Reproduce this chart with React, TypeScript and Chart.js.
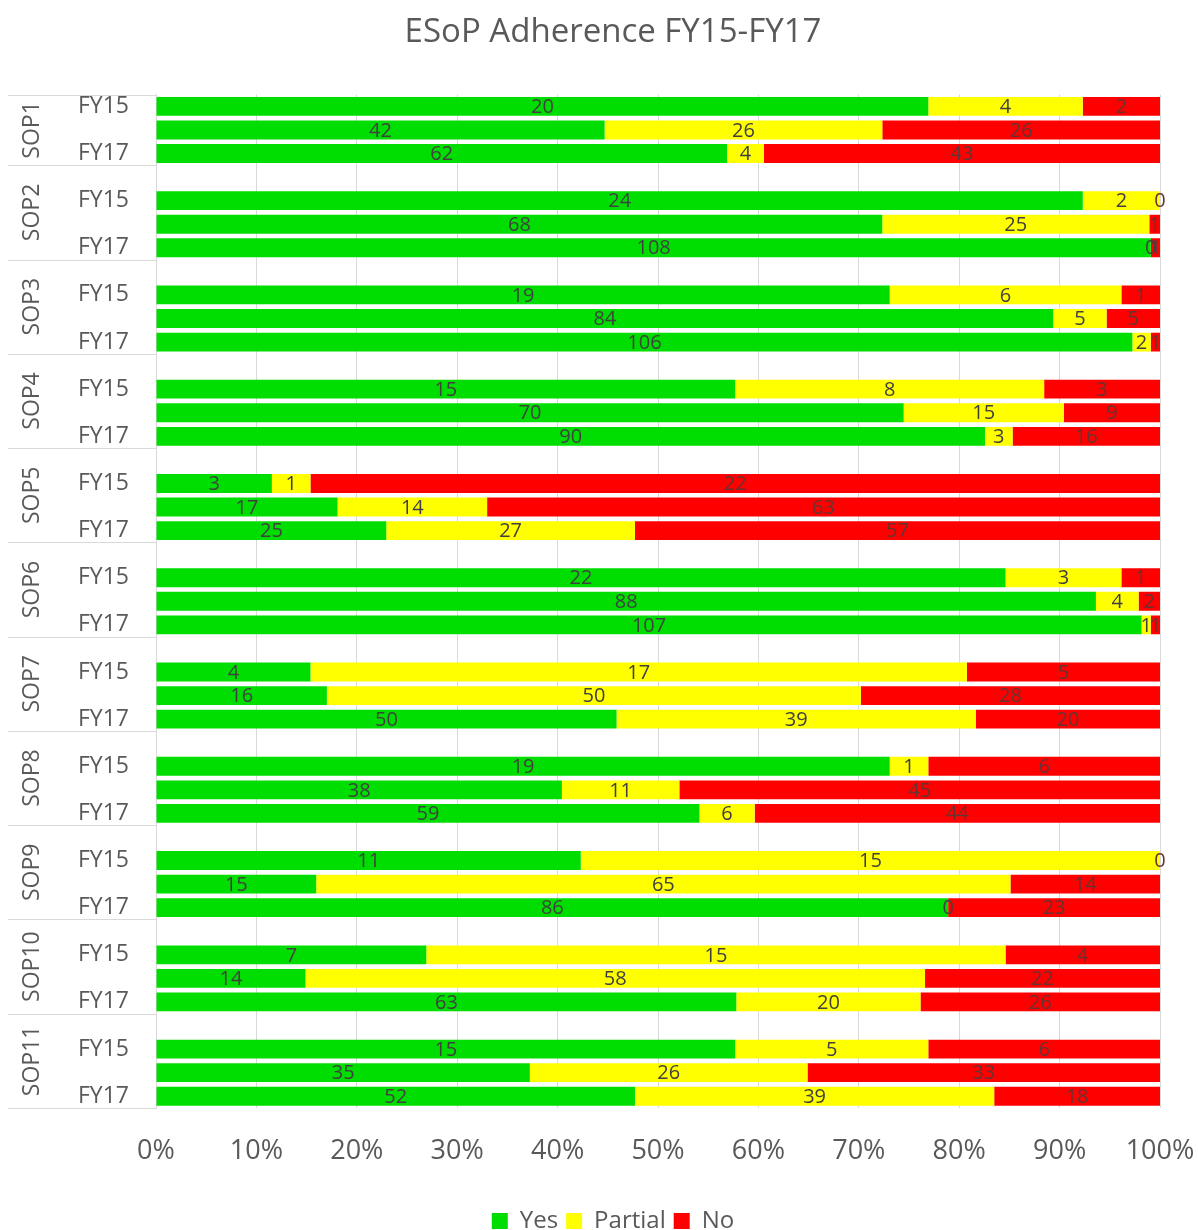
import React, { useEffect, useRef } from 'react';
import { Chart, registerables } from 'chart.js';

Chart.register(...registerables);

const FONT = "'Open Sans', 'DejaVu Sans', sans-serif";
const TEXT_COLOR = '#595959';
const GRID_COLOR = '#d9d9d9';

const chartTitle = 'ESoP Adherence FY15-FY17';
const sopGroups = ['SOP1', 'SOP2', 'SOP3', 'SOP4', 'SOP5', 'SOP6', 'SOP7', 'SOP8', 'SOP9', 'SOP10', 'SOP11'];
const fiscalYears = ['FY15', 'FY16', 'FY17'];
const hiddenYearLabel = 'FY16';

// counts per SOP, per fiscal year [FY15, FY16, FY17]
const yesCounts = [
  [20, 42, 62], [24, 68, 108], [19, 84, 106], [15, 70, 90], [3, 17, 25], [22, 88, 107],
  [4, 16, 50], [19, 38, 59], [11, 15, 86], [7, 14, 63], [15, 35, 52],
];
const partialCounts = [
  [4, 26, 4], [2, 25, 0], [6, 5, 2], [8, 15, 3], [1, 14, 27], [3, 4, 1],
  [17, 50, 39], [1, 11, 6], [15, 65, 0], [15, 58, 20], [5, 26, 39],
];
const noCounts = [
  [2, 26, 43], [0, 1, 1], [1, 5, 1], [3, 9, 16], [22, 63, 57], [1, 2, 1],
  [5, 28, 20], [6, 45, 44], [0, 14, 23], [4, 22, 26], [6, 33, 18],
];

const seriesNames = ['Yes', 'Partial', 'No'];
const seriesColors = ['#00DD00', '#FFFF00', '#FF0000'];
const labelColors = ['#404040', '#404040', '#663333'];
const xTickStep = 10;

// Build rows: a blank spacer row before every group but the first
type Row = { label: string; group: number; year: number };
const rows: Row[] = [];
sopGroups.forEach((_, g) => {
  if (g > 0) rows.push({ label: '', group: g, year: -1 });
  fiscalYears.forEach((fy, y) => rows.push({ label: fy, group: g, year: y }));
});
const rowLabels = rows.map((r) => r.label);
const seriesCounts = [yesCounts, partialCounts, noCounts];

function countsFor(s: number): (number | null)[] {
  return rows.map((r) => (r.year < 0 ? null : seriesCounts[s][r.group][r.year]));
}
function percentFor(s: number): (number | null)[] {
  return rows.map((r) => {
    if (r.year < 0) return null;
    const total = yesCounts[r.group][r.year] + partialCounts[r.group][r.year] + noCounts[r.group][r.year];
    return (seriesCounts[s][r.group][r.year] / total) * 100;
  });
}

const valueLabelPlugin = {
  id: 'valueLabels',
  afterDatasetsDraw(chart: any) {
    const ctx = chart.ctx;
    ctx.save();
    ctx.font = `20px ${FONT}`;
    ctx.textAlign = 'center';
    ctx.textBaseline = 'middle';
    chart.data.datasets.forEach((ds: any, di: number) => {
      const meta = chart.getDatasetMeta(di);
      meta.data.forEach((el: any, i: number) => {
        const c = ds.counts[i];
        if (c === null || c === undefined) return;
        const cx = (el.x + el.base) / 2;
        ctx.fillStyle = labelColors[di];
        ctx.fillText(String(c), cx, el.y + 1);
      });
    });
    ctx.restore();
  },
};

const groupAxisPlugin = {
  id: 'groupAxis',
  afterDraw(chart: any) {
    const ctx = chart.ctx;
    const y = chart.scales.y;
    const area = chart.chartArea;
    const slot = y.getPixelForValue(1) - y.getPixelForValue(0);
    ctx.save();
    ctx.strokeStyle = GRID_COLOR;
    ctx.lineWidth = 1;
    const bounds: number[] = [];
    sopGroups.forEach((name, g) => {
      const first = rows.findIndex((r) => r.group === g);
      let last = first;
      rows.forEach((r, i) => { if (r.group === g) last = i; });
      const top = y.getPixelForValue(first) - slot / 2;
      const bottom = y.getPixelForValue(last) + slot / 2;
      if (g === 0) bounds.push(top);
      bounds.push(bottom);
      ctx.save();
      ctx.translate(32, (top + bottom) / 2);
      ctx.rotate(-Math.PI / 2);
      ctx.font = `23px ${FONT}`;
      ctx.fillStyle = TEXT_COLOR;
      ctx.textAlign = 'center';
      ctx.textBaseline = 'middle';
      ctx.fillText(name, 0, 0);
      ctx.restore();
    });
    bounds.forEach((b) => {
      const yy = Math.round(b) + 0.5;
      ctx.beginPath();
      ctx.moveTo(8, yy);
      ctx.lineTo(area.left, yy);
      ctx.stroke();
    });
    ctx.restore();
  },
};

export default function App() {
  const ref = useRef<HTMLCanvasElement>(null);

  useEffect(() => {
    if (!ref.current) return;
    document.body.style.margin = '0';
    Chart.defaults.font.family = FONT;
    const chart = new Chart(ref.current, {
      type: 'bar',
      data: {
        labels: rowLabels,
        datasets: seriesNames.map((name, s) => ({
          label: name,
          data: percentFor(s),
          counts: countsFor(s),
          backgroundColor: seriesColors[s],
          borderColor: seriesColors[s],
          borderWidth: 0,
          barPercentage: 0.8,
          categoryPercentage: 1,
        })) as any,
      },
      options: {
        indexAxis: 'y',
        animation: false,
        responsive: false,
        layout: { padding: { left: 66, right: 38, top: 0, bottom: -13 } },
        plugins: {
          title: {
            display: true,
            text: chartTitle,
            color: TEXT_COLOR,
            font: { family: FONT, size: 33, weight: 'normal' },
            padding: { top: 13, bottom: 42 },
          },
          legend: {
            position: 'bottom',
            labels: {
              boxWidth: 16,
              boxHeight: 16,
              color: TEXT_COLOR,
              font: { family: FONT, size: 24 },
              padding: 8,
            },
          },
          tooltip: { enabled: false },
        },
        scales: {
          x: {
            stacked: true,
            min: 0,
            max: 100,
            ticks: {
              stepSize: xTickStep,
              callback: (v: any) => `${v}%`,
              color: TEXT_COLOR,
              font: { family: FONT, size: 27 },
              padding: 27,
            },
            grid: { color: GRID_COLOR, drawTicks: false },
            border: { display: false },
            afterFit: (s: any) => { s.height += 6.6; s.paddingRight = 0; s.paddingLeft = 0; },
          },
          y: {
            stacked: true,
            ticks: {
              autoSkip: false,
              callback: (_v: any, i: number) => (rowLabels[i] === hiddenYearLabel ? '' : rowLabels[i]),
              color: TEXT_COLOR,
              font: { family: FONT, size: 23 },
              padding: 27,
            },
            grid: { display: false, drawTicks: false },
            border: { display: true, color: GRID_COLOR },
            afterFit: (s: any) => { s.width = 90; s.paddingTop = 0; s.paddingBottom = 0; },
          },
        },
      } as any,
      plugins: [valueLabelPlugin, groupAxisPlugin],
    });
    return () => chart.destroy();
  }, []);

  return <canvas ref={ref} width={1198} height={1230} style={{ display: 'block' }} />;
}
